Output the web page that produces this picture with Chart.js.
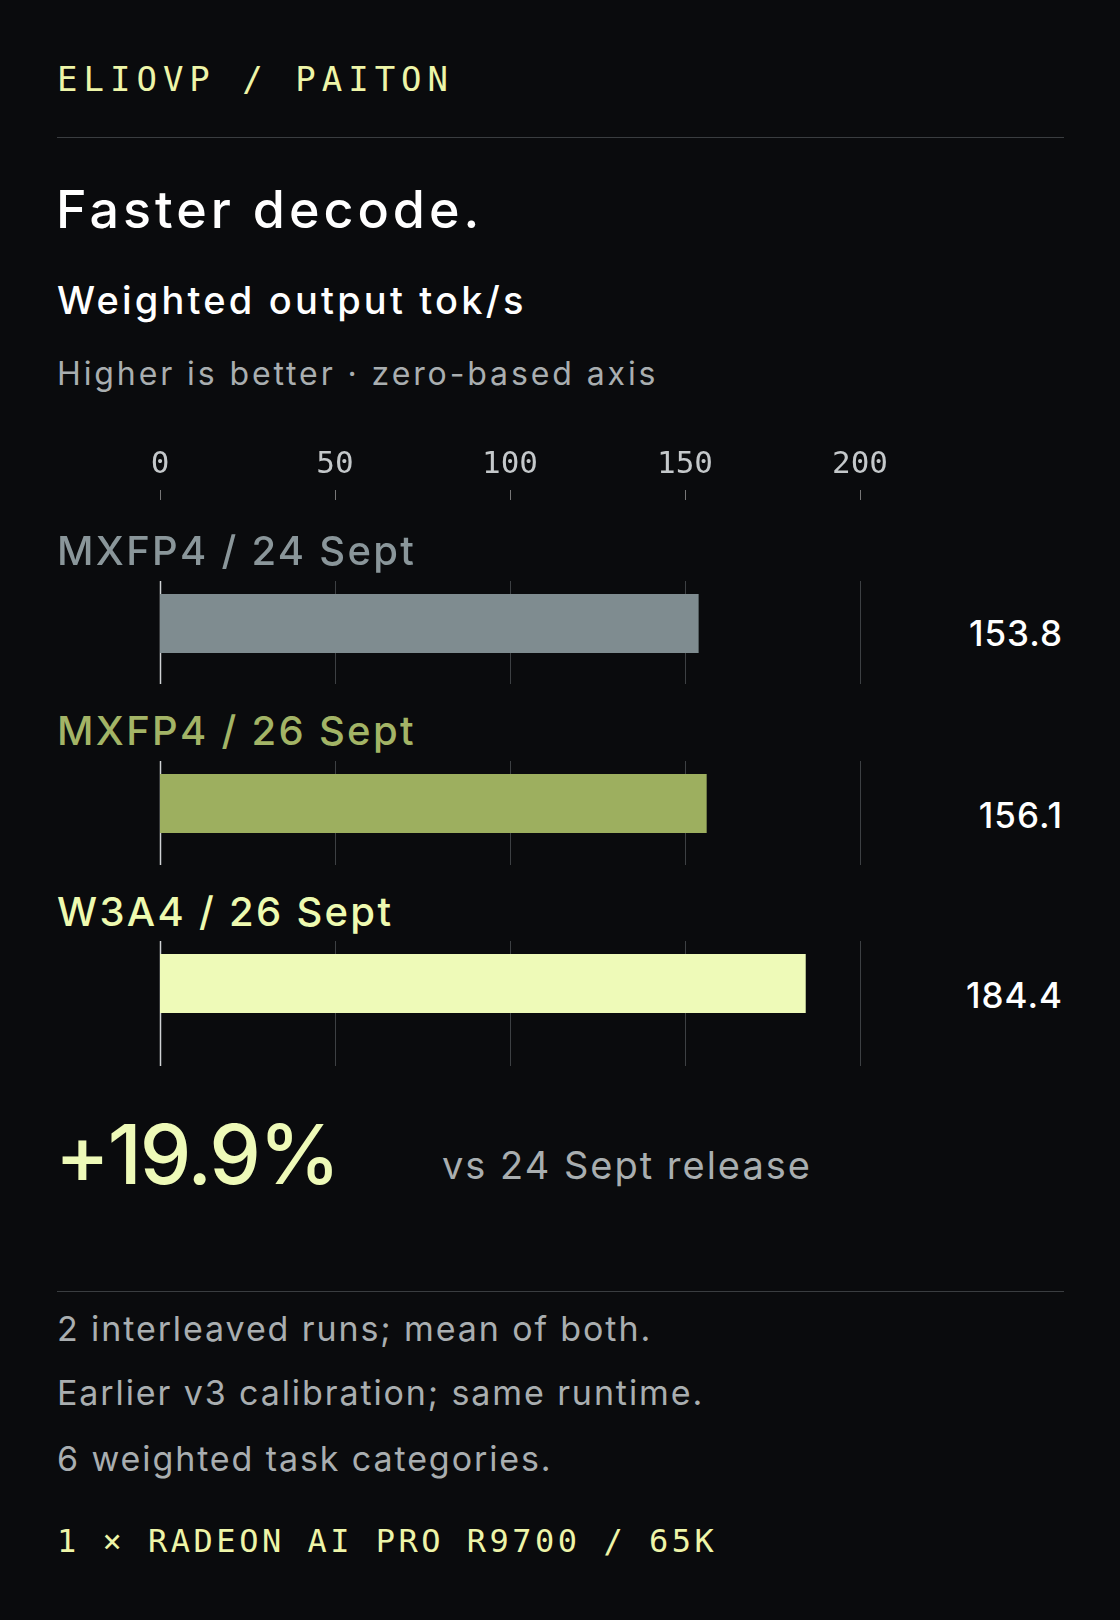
<!DOCTYPE html>
<html><head><meta charset="utf-8">
<script src="https://cdn.jsdelivr.net/npm/chart.js@4/dist/chart.umd.min.js"></script>
<style>
html,body{margin:0;padding:0;background:#0a0b0d;}
body{width:1120px;height:1620px;position:relative;overflow:hidden;font-family:Inter,"Noto Sans",sans-serif;}
.t{position:absolute;white-space:nowrap;line-height:1;}
.mono{font-family:"DejaVu Sans Mono",monospace;color:#eef5a8;}
.rule{position:absolute;left:57px;width:1007px;height:1px;background:#3a3d40;}
canvas{position:absolute;}
</style></head><body>
<div class="t mono" style="left:57px;top:62px;font-size:34px;letter-spacing:6px;">ELIOVP / PAITON</div>
<div class="rule" style="top:137px"></div>
<div class="t" style="left:56px;top:184px;font-size:52px;color:#fff;font-weight:500;letter-spacing:4px;">Faster decode.</div>
<div class="t" style="left:57px;top:281px;font-size:38px;color:#fff;font-weight:500;letter-spacing:3.2px;">Weighted output tok/s</div>
<div class="t" style="left:57px;top:358px;font-size:32px;color:#a9aeb0;letter-spacing:2.9px;">Higher is better · zero-based axis</div>
<canvas id="axis" style="left:120px;top:440px;width:780px;height:110px;" width="780" height="110"></canvas>
<div id="rows"></div>
<div class="t" style="left:55px;top:1114px;font-size:82px;color:#eefab8;font-weight:500;letter-spacing:-2px;">+19.9%</div>
<div class="t" style="left:442px;top:1146px;font-size:38px;color:#a9aeb0;letter-spacing:2px;">vs 24 Sept release</div>
<div class="rule" style="top:1291px"></div>
<div class="t" style="left:57px;top:1312px;font-size:34px;color:#a9aeb0;letter-spacing:1.9px;">2 interleaved runs; mean of both.</div>
<div class="t" style="left:57px;top:1376px;font-size:34px;color:#a9aeb0;letter-spacing:1.9px;">Earlier v3 calibration; same runtime.</div>
<div class="t" style="left:57px;top:1442px;font-size:34px;color:#a9aeb0;letter-spacing:1.9px;">6 weighted task categories.</div>
<div class="t mono" style="left:57px;top:1525px;font-size:32px;letter-spacing:3.5px;">1 × RADEON AI PRO R9700 / 65K</div>
<script>
const categories = ["MXFP4 / 24 Sept", "MXFP4 / 26 Sept", "W3A4 / 26 Sept"];
const values = [153.8, 156.1, 184.4];
const valueLabels = ["153.8", "156.1", "184.4"];
const tickValues = [0, 50, 100, 150, 200];
const barColors = ["#7f8c90", "#9daf5f", "#eefab8"];
const labelColors = ["#8a969a", "#a3b466", "#eefab0"];

const AX_MIN = 0, AX_MAX = 200;
new Chart(document.getElementById('axis'), {
  type: 'bar',
  data: {labels: [''], datasets: [{data: [null]}]},
  options: {
    indexAxis: 'y', responsive: false, animation: false, events: [],
    layout: {padding: {left: 40, right: 40, top: 10, bottom: 0}},
    plugins: {legend: {display: false}, tooltip: {enabled: false}},
    scales: {
      x: {position: 'top', min: AX_MIN, max: AX_MAX,
        afterBuildTicks: s => { s.ticks = tickValues.map(v => ({value: v})); },
        ticks: {color: '#c4c8ca', font: {family: 'DejaVu Sans Mono', size: 31}, padding: 6, maxRotation: 0},
        grid: {drawOnChartArea: false, color: '#777', tickLength: 10, tickWidth: 1},
        border: {display: false}},
      y: {display: false}
    }
  }
});

const rowLayout = [
  {label: 531, grid: 581, h: 103, val: 616},
  {label: 711, grid: 761, h: 104, val: 798},
  {label: 892, grid: 941, h: 125, val: 978}
];
const gridPlugin = {
  id: 'fullGrid',
  beforeDatasetsDraw(chart) {
    const {ctx} = chart; const x = chart.scales.x;
    ctx.save();
    tickValues.forEach(v => {
      const px = Math.round(x.getPixelForValue(v)) + 0.5;
      ctx.strokeStyle = v === 0 ? '#cfd2d4' : '#3d4043';
      ctx.lineWidth = v === 0 ? 1.5 : 1;
      ctx.beginPath(); ctx.moveTo(px, 0); ctx.lineTo(px, chart.height); ctx.stroke();
    });
    ctx.restore();
  }
};
const rows = document.getElementById('rows');
categories.forEach((cat, i) => {
  const L = rowLayout[i];
  const lab = document.createElement('div');
  lab.className = 't'; lab.textContent = cat;
  lab.style.cssText = `left:57px;top:${L.label}px;font-size:40px;font-weight:500;letter-spacing:2.3px;color:${labelColors[i]};`;
  rows.appendChild(lab);
  const val = document.createElement('div');
  val.className = 't'; val.textContent = valueLabels[i];
  val.style.cssText = `right:57px;top:${L.val}px;font-size:35px;color:#fff;font-weight:500;letter-spacing:1px;`;
  rows.appendChild(val);
  const c = document.createElement('canvas');
  c.width = 780; c.height = L.h;
  c.style.cssText = `left:120px;top:${L.grid}px;width:780px;height:${L.h}px;`;
  rows.appendChild(c);
  new Chart(c, {
    type: 'bar',
    data: {labels: [cat], datasets: [{data: [values[i]], backgroundColor: barColors[i], barPercentage: 1, categoryPercentage: 1}]},
    options: {
      indexAxis: 'y', responsive: false, animation: false, events: [],
      layout: {padding: {left: 40, right: 40, top: 13, bottom: L.h - 13 - 59}},
      plugins: {legend: {display: false}, tooltip: {enabled: false}},
      scales: {
        x: {display: false, min: AX_MIN, max: AX_MAX},
        y: {display: false}
      }
    },
    plugins: [gridPlugin]
  });
});
</script>
</body></html>
